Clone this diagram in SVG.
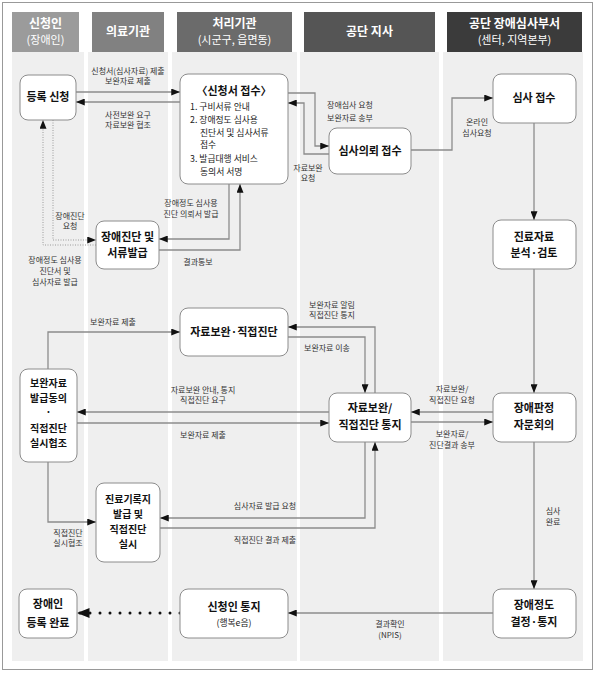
<svg xmlns="http://www.w3.org/2000/svg" width="595" height="674" viewBox="0 0 595 674">
<style>
text{font-family:"Noto Sans CJK KR","Noto Sans",sans-serif;}
.hd{fill:#fff;font-size:12px;font-weight:bold;text-anchor:middle;}
.hs{fill:#fff;font-size:11px;text-anchor:middle;}
.lane{fill:#efefef;}
.node rect{fill:#fff;stroke:#8c8c8c;stroke-width:1;}
.nt{font-size:11px;font-weight:bold;fill:#111;text-anchor:middle;}
.nm{font-size:10px;font-weight:bold;fill:#111;text-anchor:middle;}
.ns{font-size:8.8px;fill:#222;}
.lb{font-size:8px;fill:#333;text-anchor:middle;}
.ln{fill:none;stroke:#8c8c8c;stroke-width:1.3;marker-end:url(#ar);}
.dt{fill:none;stroke:#9a9a9a;stroke-width:1;stroke-dasharray:1 1.5;marker-end:url(#ar);}
</style>
<defs>
<marker id="ar" viewBox="0 0 10 8" markerWidth="9" markerHeight="7" refX="10" refY="4" orient="auto" markerUnits="userSpaceOnUse"><path d="M0,0 L10,4 L0,8 z" fill="#111"/></marker>
<marker id="ar2" viewBox="0 0 10 8" markerWidth="13" markerHeight="10" refX="10" refY="4" orient="auto" markerUnits="userSpaceOnUse"><path d="M0,0 L10,4 L0,8 z" fill="#111"/></marker>
</defs>
<rect x="2.5" y="2.5" width="590" height="667" fill="#fff" stroke="#999" stroke-width="1"/>
<g id="lanes">
<rect class="lane" x="12" y="52" width="72" height="609"/>
<rect class="lane" x="88" y="52" width="80" height="609"/>
<rect class="lane" x="172" y="52" width="125" height="609"/>
<rect class="lane" x="300" y="52" width="139" height="609"/>
<rect class="lane" x="443" y="52" width="140" height="609"/>
<rect x="12" y="12" width="67" height="40" fill="#9b9b9b"/>
<rect x="92" y="12" width="72" height="40" fill="#818181"/>
<rect x="177" y="12" width="115" height="40" fill="#6b6b6b"/>
<rect x="304" y="12" width="131" height="40" fill="#555"/>
<rect x="447" y="12" width="135" height="40" fill="#3b3b3b"/>
<text class="hd" x="45.5" y="28">신청인</text>
<text class="hs" x="45.5" y="44">(장애인)</text>
<text class="hd" x="128" y="36">의료기관</text>
<text class="hd" x="234.5" y="28">처리기관</text>
<text class="hs" x="234.5" y="44">(시군구, 읍면동)</text>
<text class="hd" x="369.5" y="36">공단 지사</text>
<text class="hd" x="514.5" y="28">공단 장애심사부서</text>
<text class="hs" x="514.5" y="44">(센터, 지역본부)</text>
</g>
<g id="connectors">
<path class="ln" d="M76,92 H180"/>
<path class="ln" d="M180,102 H76"/>
<path class="ln" d="M288,93 H315 V146 H329"/>
<path class="ln" d="M329,154 H304 V103 H288"/>
<path class="ln" d="M411,150 H452 V98 H493"/>
<path class="ln" d="M534,123 V220"/>
<path class="ln" d="M229,184 V239 H159"/>
<path class="ln" d="M159,250 H240 V184"/>
<path class="dt" d="M53,120 V240 H96"/>
<path class="dt" d="M96,245 H43 V120"/>
<path class="ln" d="M48,369 V332 H180"/>
<path class="ln" d="M375,393 V327 H288"/>
<path class="ln" d="M288,337 H365 V393"/>
<path class="ln" d="M329,412 H77"/>
<path class="ln" d="M77,423 H329"/>
<path class="ln" d="M493,412 H411"/>
<path class="ln" d="M411,422 H493"/>
<path class="ln" d="M534,269 V393"/>
<path class="ln" d="M48,462 V522 H96"/>
<path class="ln" d="M365,442 V518 H160"/>
<path class="ln" d="M160,528 H375 V442"/>
<path class="ln" d="M534,442 V589"/>
<path class="ln" d="M493,613 H288"/>
<path d="M180,613 H77" fill="none" stroke="#111" stroke-width="3" stroke-linecap="round" stroke-dasharray="0 10" marker-end="url(#ar2)"/>
<text class="lb" x="128" y="74">신청서(심사자료) 제출</text>
<text class="lb" x="128" y="84">보완자료 제출</text>
<text class="lb" x="128" y="118">사전보완 요구</text>
<text class="lb" x="128" y="128">자료보완 협조</text>
<text class="lb" x="350" y="108">장애심사 요청</text>
<text class="lb" x="350" y="121">보완자료 송부</text>
<text class="lb" x="308" y="171">자료보완</text>
<text class="lb" x="308" y="181">요청</text>
<text class="lb" x="477" y="125">온라인</text>
<text class="lb" x="477" y="136">심사요청</text>
<text class="lb" x="191" y="206">장애정도 심사용</text>
<text class="lb" x="191" y="217">진단 의뢰서 발급</text>
<text class="lb" x="198" y="265">결과통보</text>
<text class="lb" x="70" y="219">장애진단</text>
<text class="lb" x="70" y="229">요청</text>
<text class="lb" x="55" y="263">장애정도 심사용</text>
<text class="lb" x="55" y="274">진단서 및</text>
<text class="lb" x="55" y="285">심사자료 발급</text>
<text class="lb" x="113" y="325">보완자료 제출</text>
<text class="lb" x="332" y="308">보완자료 알림</text>
<text class="lb" x="332" y="318">직접진단 통지</text>
<text class="lb" x="327" y="351">보완자료 이송</text>
<text class="lb" x="203" y="393">자료보완 안내, 통지</text>
<text class="lb" x="203" y="403">직접진단 요구</text>
<text class="lb" x="203" y="438">보완자료 제출</text>
<text class="lb" x="452" y="392">자료보완/</text>
<text class="lb" x="452" y="403">직접진단 요청</text>
<text class="lb" x="452" y="437">보완자료/</text>
<text class="lb" x="452" y="448">진단결과 송부</text>
<text class="lb" x="68" y="536">직접진단</text>
<text class="lb" x="68" y="546">실시협조</text>
<text class="lb" x="265" y="509">심사자료 발급 요청</text>
<text class="lb" x="265" y="543">직접진단 결과 제출</text>
<text class="lb" x="553" y="514">심사</text>
<text class="lb" x="553" y="525">완료</text>
<text class="lb" x="390" y="627">결과확인</text>
<text class="lb" x="390" y="638">(NPIS)</text>
</g>
<g id="n1" class="node"><rect x="20" y="75" width="56" height="45" rx="8"/><text class="nt" x="48" y="101">등록 신청</text></g>
<g id="n2" class="node"><rect x="180" y="74" width="108" height="110" rx="8"/>
<text class="nt" x="234" y="95">〈신청서 접수〉</text>
<text class="ns" x="190" y="110">1. 구비서류 안내</text>
<text class="ns" x="190" y="122.8">2. 장애정도 심사용</text>
<text class="ns" x="200" y="135.6">진단서 및 심사서류</text>
<text class="ns" x="200" y="148.4">접수</text>
<text class="ns" x="190" y="162">3. 발급대행 서비스</text>
<text class="ns" x="200" y="174.8">동의서 서명</text></g>
<g id="n3" class="node"><rect x="329" y="128" width="82" height="46" rx="8"/><text class="nt" x="370" y="155">심사의뢰 접수</text></g>
<g id="n4" class="node"><rect x="493" y="74" width="83" height="49" rx="8"/><text class="nt" x="534" y="102">심사 접수</text></g>
<g id="n5" class="node"><rect x="96" y="221" width="63" height="48" rx="8"/><text class="nt" x="127.5" y="241">장애진단 및</text><text class="nt" x="127.5" y="257">서류발급</text></g>
<g id="n6" class="node"><rect x="493" y="220" width="83" height="49" rx="8"/><text class="nt" x="534" y="241">진료자료</text><text class="nt" x="534" y="257">분석·검토</text></g>
<g id="n7" class="node"><rect x="180" y="308" width="108" height="48" rx="8"/><text class="nt" x="234" y="336">자료보완·직접진단</text></g>
<g id="n8" class="node"><rect x="20" y="369" width="57" height="93" rx="8"/><text class="nm" x="48.5" y="387">보완자료</text><text class="nm" x="48.5" y="401.5">발급동의</text><text class="nm" x="48.5" y="416">·</text><text class="nm" x="48.5" y="432">직접진단</text><text class="nm" x="48.5" y="446.5">실시협조</text></g>
<g id="n9" class="node"><rect x="329" y="393" width="82" height="49" rx="8"/><text class="nt" x="370" y="412">자료보완/</text><text class="nt" x="370" y="429">직접진단 통지</text></g>
<g id="n10" class="node"><rect x="493" y="393" width="83" height="49" rx="8"/><text class="nt" x="534" y="412">장애판정</text><text class="nt" x="534" y="429">자문회의</text></g>
<g id="n11" class="node"><rect x="96" y="483" width="64" height="79" rx="8"/><text class="nm" x="128" y="503">진료기록지</text><text class="nm" x="128" y="518">발급 및</text><text class="nm" x="128" y="533">직접진단</text><text class="nm" x="128" y="548">실시</text></g>
<g id="n12" class="node"><rect x="19" y="589" width="58" height="49" rx="8"/><text class="nt" x="48" y="608">장애인</text><text class="nt" x="48" y="627">등록 완료</text></g>
<g id="n13" class="node"><rect x="180" y="589" width="108" height="49" rx="8"/><text class="nt" x="234" y="611">신청인 통지</text><text class="ns" x="234" y="626" text-anchor="middle">(행복e음)</text></g>
<g id="n14" class="node"><rect x="493" y="589" width="83" height="49" rx="8"/><text class="nt" x="534" y="609">장애정도</text><text class="nt" x="534" y="626">결정·통지</text></g>
</svg>
